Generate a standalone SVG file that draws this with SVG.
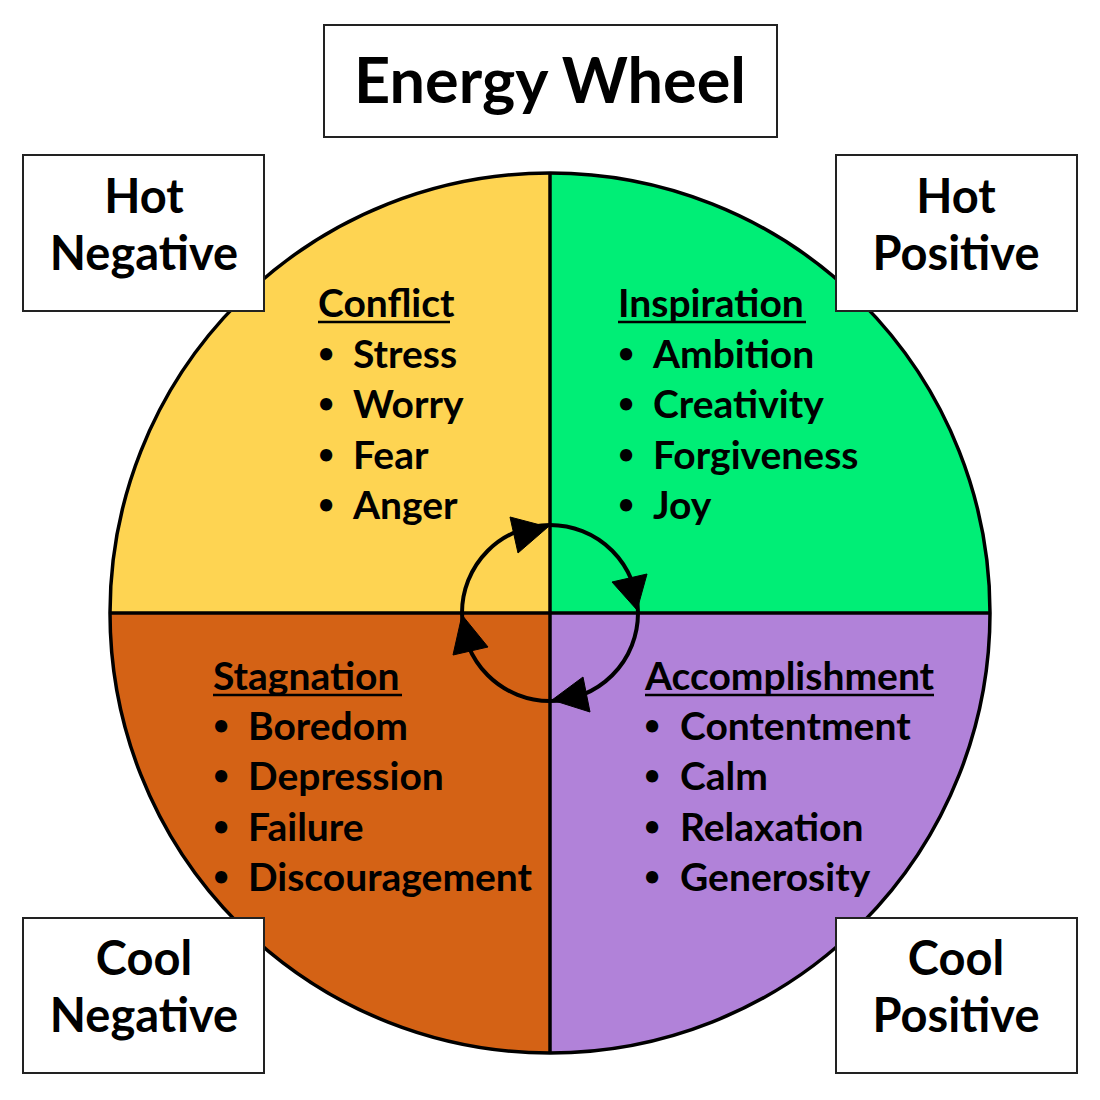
<svg xmlns="http://www.w3.org/2000/svg" width="1100" height="1100" viewBox="0 0 1100 1100">
<style>
text{font-family:"Lato","Open Sans","Liberation Sans",sans-serif;font-weight:700;fill:#000}
.h{font-size:39px}
.i{font-size:39px}
.b{font-size:28px}
.c{font-size:47px;text-anchor:middle}
.t{font-size:63px;text-anchor:middle}
.box{fill:#fff;stroke:#222;stroke-width:2}
.ul{stroke:#000;stroke-width:2.5}
.arc{fill:none;stroke:#000;stroke-width:4}
</style>
<rect width="1100" height="1100" fill="#fff"/>
<g id="wheel">
<path d="M550,613 L110,613 A440,440 0 0 1 550,173 Z" fill="#FED452"/>
<path d="M550,613 L550,173 A440,440 0 0 1 990,613 Z" fill="#00EE76"/>
<path d="M550,613 L990,613 A440,440 0 0 1 550,1053 Z" fill="#B182D9"/>
<path d="M550,613 L550,1053 A440,440 0 0 1 110,613 Z" fill="#D46215"/>
<circle cx="550" cy="613" r="440" fill="none" stroke="#000" stroke-width="3.5"/>
<line x1="110" y1="613" x2="990" y2="613" stroke="#000" stroke-width="3.5"/>
<line x1="550" y1="173" x2="550" y2="1053" stroke="#000" stroke-width="3.5"/>
</g>
<g id="connectors">
<path class="arc" d="M462,613 A88,88 0 0 1 550,525"/>
<path class="arc" d="M550,525 A88,88 0 0 1 638,613"/>
<path class="arc" d="M638,613 A88,88 0 0 1 550,701"/>
<path class="arc" d="M550,701 A88,88 0 0 1 462,613"/>
<polygon points="548,527 510,517 518,553" fill="#000" stroke="#000" stroke-width="1" stroke-linejoin="round"/>
<polygon points="637,610 612,582 647,574" fill="#000" stroke="#000" stroke-width="1" stroke-linejoin="round"/>
<polygon points="552,700 583,677 590,712" fill="#000" stroke="#000" stroke-width="1" stroke-linejoin="round"/>
<polygon points="462,615 453,655 488,647" fill="#000" stroke="#000" stroke-width="1" stroke-linejoin="round"/>
</g>
<g id="title">
<rect class="box" x="324" y="25" width="453" height="112"/>
<text class="t" x="550" y="103">Energy Wheel</text>
</g>
<g id="hot-negative">
<rect class="box" x="23" y="155" width="241" height="156"/>
<text class="c" x="144" y="213">Hot</text>
<text class="c" x="144" y="270">Negative</text>
</g>
<g id="hot-positive">
<rect class="box" x="836" y="155" width="241" height="156"/>
<text class="c" x="956" y="213">Hot</text>
<text class="c" x="956" y="270">Positive</text>
</g>
<g id="cool-negative">
<rect class="box" x="23" y="918" width="241" height="155"/>
<text class="c" x="144" y="975">Cool</text>
<text class="c" x="144" y="1032">Negative</text>
</g>
<g id="cool-positive">
<rect class="box" x="836" y="918" width="241" height="155"/>
<text class="c" x="956" y="975">Cool</text>
<text class="c" x="956" y="1032">Positive</text>
</g>
<g id="conflict">
<text class="h" x="318" y="317">Conflict</text>
<line class="ul" x1="318" y1="322" x2="450" y2="322"/>
<text class="b" x="318" y="363">•</text><text class="i" x="353" y="368">Stress</text>
<text class="b" x="318" y="413">•</text><text class="i" x="353" y="418">Worry</text>
<text class="b" x="318" y="464">•</text><text class="i" x="353" y="469">Fear</text>
<text class="b" x="318" y="514">•</text><text class="i" x="353" y="519">Anger</text>
</g>
<g id="inspiration">
<text class="h" x="618" y="317">Inspiration</text>
<line class="ul" x1="618" y1="322" x2="806" y2="322"/>
<text class="b" x="618" y="363">•</text><text class="i" x="653" y="368">Ambition</text>
<text class="b" x="618" y="413">•</text><text class="i" x="653" y="418">Creativity</text>
<text class="b" x="618" y="464">•</text><text class="i" x="653" y="469">Forgiveness</text>
<text class="b" x="618" y="514">•</text><text class="i" x="653" y="519">Joy</text>
</g>
<g id="stagnation">
<text class="h" x="213" y="690">Stagnation</text>
<line class="ul" x1="213" y1="695" x2="402" y2="695"/>
<text class="b" x="213" y="735">•</text><text class="i" x="248" y="740">Boredom</text>
<text class="b" x="213" y="785">•</text><text class="i" x="248" y="790">Depression</text>
<text class="b" x="213" y="836">•</text><text class="i" x="248" y="841">Failure</text>
<text class="b" x="213" y="886">•</text><text class="i" x="248" y="891">Discouragement</text>
</g>
<g id="accomplishment">
<text class="h" x="645" y="690">Accomplishment</text>
<line class="ul" x1="645" y1="695" x2="934" y2="695"/>
<text class="b" x="644" y="735">•</text><text class="i" x="680" y="740">Contentment</text>
<text class="b" x="644" y="785">•</text><text class="i" x="680" y="790">Calm</text>
<text class="b" x="644" y="836">•</text><text class="i" x="680" y="841">Relaxation</text>
<text class="b" x="644" y="886">•</text><text class="i" x="680" y="891">Generosity</text>
</g>
</svg>
